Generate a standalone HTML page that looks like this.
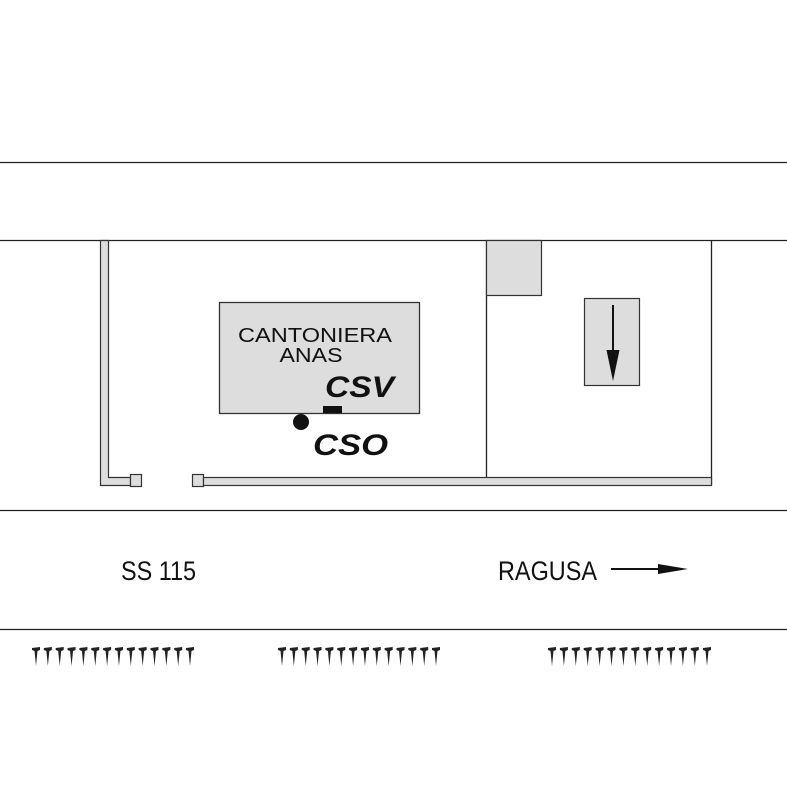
<!DOCTYPE html>
<html><head><style>html,body{margin:0;padding:0;background:#fff}svg{display:block}</style></head>
<body>
<svg width="787" height="787" viewBox="0 0 787 787" xmlns="http://www.w3.org/2000/svg" font-family="Liberation Sans, Arial, sans-serif">
<rect width="787" height="787" fill="#fff"/>
<g stroke="#222" stroke-width="1.3" fill="none">
<line x1="0" y1="162.5" x2="787" y2="162.5"/>
<line x1="0" y1="240.5" x2="787" y2="240.5"/>
<line x1="0" y1="510.5" x2="787" y2="510.5"/>
<line x1="0" y1="629.5" x2="787" y2="629.5"/>
<line x1="486.5" y1="240" x2="486.5" y2="478"/>
<line x1="711.5" y1="240" x2="711.5" y2="485"/>
</g>
<path d="M100.5 240.5 V485.5 H130.5 V477.5 H108.5 V240.5 Z" fill="#ddd" stroke="#333" stroke-width="1.2"/>
<rect x="130.5" y="474.5" width="11" height="12" fill="#ddd" stroke="#333" stroke-width="1.2"/>
<rect x="192.5" y="474.5" width="11" height="12" fill="#ddd" stroke="#333" stroke-width="1.2"/>
<rect x="203.5" y="477.5" width="508" height="8" fill="#ddd" stroke="#333" stroke-width="1.2"/>
<rect x="486.5" y="240.5" width="55" height="55" fill="#ddd" stroke="#333" stroke-width="1.2"/>
<rect x="584.5" y="298.5" width="55" height="87" fill="#ddd" stroke="#333" stroke-width="1.2"/>
<line x1="613" y1="305" x2="613" y2="352" stroke="#111" stroke-width="2"/>
<polygon points="606.5,350 619.5,350 613,381" fill="#111"/>
<rect x="219.5" y="302.5" width="200" height="111" fill="#ddd" stroke="#333" stroke-width="1.3"/>
<text x="315" y="342" font-size="20" text-anchor="middle" fill="#111" textLength="154" lengthAdjust="spacingAndGlyphs">CANTONIERA</text>
<text x="311" y="362" font-size="20" text-anchor="middle" fill="#111" textLength="63" lengthAdjust="spacingAndGlyphs">ANAS</text>
<text x="325" y="397" font-size="30" font-weight="bold" font-style="italic" fill="#111" textLength="69" lengthAdjust="spacingAndGlyphs">CSV</text>
<rect x="323" y="406" width="19" height="7" fill="#111"/>
<circle cx="301" cy="422" r="8" fill="#111"/>
<text x="313" y="455" font-size="30" font-weight="bold" font-style="italic" fill="#111" textLength="75" lengthAdjust="spacingAndGlyphs">CSO</text>
<text x="121" y="580" font-size="27" fill="#111" textLength="75" lengthAdjust="spacingAndGlyphs">SS 115</text>
<text x="498" y="580" font-size="27" fill="#111" textLength="99" lengthAdjust="spacingAndGlyphs">RAGUSA</text>
<line x1="611" y1="569" x2="662" y2="569" stroke="#111" stroke-width="2"/>
<polygon points="658,564 688,569 658,574" fill="#111"/>
<defs><polygon id="s" points="-4,648 4,647 4,650 1.5,651 0,666 -1.5,651 -4,650" fill="#222"/></defs>
<g>
<use href="#s" x="36"/><use href="#s" x="47.85"/><use href="#s" x="59.7"/><use href="#s" x="71.55"/><use href="#s" x="83.4"/><use href="#s" x="95.25"/><use href="#s" x="107.1"/><use href="#s" x="118.95"/><use href="#s" x="130.8"/><use href="#s" x="142.65"/><use href="#s" x="154.5"/><use href="#s" x="166.35"/><use href="#s" x="178.2"/><use href="#s" x="190"/>
<use href="#s" x="282"/><use href="#s" x="293.85"/><use href="#s" x="305.7"/><use href="#s" x="317.55"/><use href="#s" x="329.4"/><use href="#s" x="341.25"/><use href="#s" x="353.1"/><use href="#s" x="364.95"/><use href="#s" x="376.8"/><use href="#s" x="388.65"/><use href="#s" x="400.5"/><use href="#s" x="412.35"/><use href="#s" x="424.2"/><use href="#s" x="436"/>
<use href="#s" x="552"/><use href="#s" x="563.9"/><use href="#s" x="575.8"/><use href="#s" x="587.7"/><use href="#s" x="599.6"/><use href="#s" x="611.5"/><use href="#s" x="623.4"/><use href="#s" x="635.3"/><use href="#s" x="647.2"/><use href="#s" x="659.1"/><use href="#s" x="671"/><use href="#s" x="682.9"/><use href="#s" x="694.8"/><use href="#s" x="707"/>
</g>
</svg>
</body></html>
